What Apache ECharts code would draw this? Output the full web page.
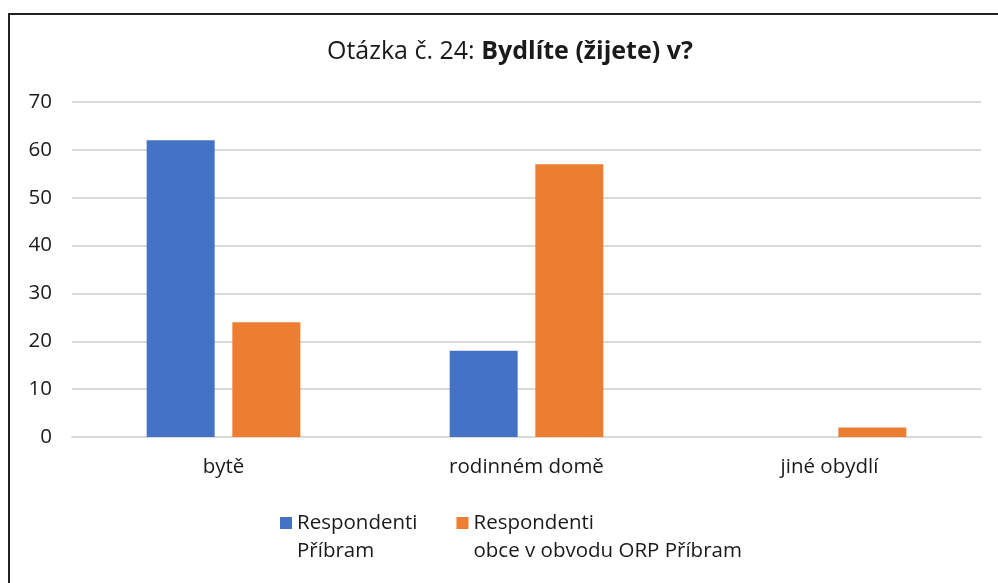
<!DOCTYPE html>
<html>
<head>
<meta charset="utf-8">
<style>
  html, body { margin: 0; padding: 0; background: #fff; }
  #chart { width: 998px; height: 583px; }
</style>
<script src="https://cdn.jsdelivr.net/npm/echarts@6/dist/echarts.min.js"></script>
</head>
<body>
<div id="chart"></div>
<script>
// Otázka č. 24 – typ bydlení respondentů
const categories = ['bytě', 'rodinném domě', 'jiné obydlí'];
const seriesNames = ['Respondenti\nPříbram', 'Respondenti\nobce v obvodu ORP Příbram'];
const pribram = [62, 18, 0];
const obceORP = [24, 57, 2];
const yTicks = { min: 0, max: 70, interval: 10 };

const FONT = '"Open Sans", sans-serif';
const TEXT = '#1a1a1a';

const chart = echarts.init(document.getElementById('chart'), null, { renderer: 'canvas' });

chart.setOption({
  animation: false,
  backgroundColor: '#fff',
  color: ['#4472C4', '#ED7D31'],
  title: {
    text: '{n|Otázka č. 24: }{b|Bydlíte (žijete) v?}',
    left: 327,
    top: 39,
    padding: 0,
    textStyle: {
      rich: {
        n: { fontFamily: FONT, fontSize: 25, color: TEXT, fontWeight: 'normal' },
        b: { fontFamily: FONT, fontSize: 25, color: TEXT, fontWeight: 'bold' }
      }
    }
  },
  graphic: [{
    type: 'rect',
    shape: { x: 9, y: 14, width: 1000, height: 600 },
    style: { fill: 'none', stroke: '#222', lineWidth: 2 },
    silent: true
  }],
  legend: {
    left: 280,
    top: 481,
    padding: 0,
    itemWidth: 12,
    itemHeight: 12,
    itemGap: 39,
    icon: 'rect',
    // a blank first line keeps the marker level with the first text line
    formatter: name => ' \n' + name,
    textStyle: { fontFamily: FONT, fontSize: 20.5, color: TEXT, lineHeight: 28 },
    data: seriesNames
  },
  grid: { left: 72, right: 17, top: 102, bottom: 146, containLabel: false },
  xAxis: {
    type: 'category',
    data: categories,
    axisTick: { show: false },
    axisLine: { show: true, lineStyle: { color: '#d9d9d9', width: 2 } },
    axisLabel: { fontFamily: FONT, fontSize: 20.5, color: TEXT, margin: 20 }
  },
  yAxis: {
    type: 'value',
    min: yTicks.min, max: yTicks.max, interval: yTicks.interval,
    axisLine: { show: false },
    axisTick: { show: false },
    splitLine: { lineStyle: { color: '#d9d9d9', width: 2 } },
    axisLabel: { fontFamily: FONT, fontSize: 20.5, color: TEXT, margin: 20 }
  },
  series: [
    { name: seriesNames[0], type: 'bar', data: pribram, barWidth: 68, barGap: '26%' },
    { name: seriesNames[1], type: 'bar', data: obceORP, barWidth: 68, barGap: '26%' }
  ]
});
</script>
</body>
</html>
